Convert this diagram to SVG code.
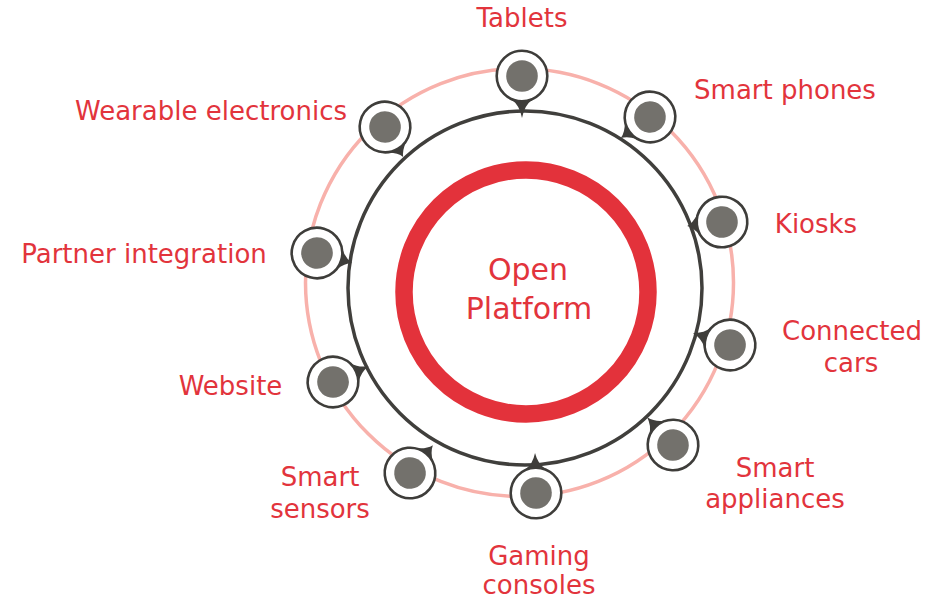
<svg xmlns="http://www.w3.org/2000/svg" width="938" height="600" viewBox="0 0 938 600">
<style>
.lbl{font-family:"DejaVu Sans","Liberation Sans",sans-serif;font-size:26px;fill:#e2343c;text-anchor:middle}
.ctr{font-size:30px}
.pin{fill:#3e3d3a}
.ring{fill:#fff;stroke:#3e3d3a;stroke-width:2.6}
.dot{fill:#73716c}
</style>
<g id="connectors" fill="none">
  <circle cx="519.5" cy="282.5" r="214" stroke="#f8b1ab" stroke-width="3.5"/>
  <circle cx="525" cy="288" r="177" stroke="#403f3c" stroke-width="3.5"/>
</g>
<g id="center">
  <circle cx="526" cy="292" r="122" fill="none" stroke="#e3323b" stroke-width="17.5"/>
  <text class="lbl ctr" x="528" y="280">Open</text>
  <text class="lbl ctr" x="529" y="319">Platform</text>
</g>
<g id="n-tablets">
  <g transform="translate(522,76) rotate(0)"><path class="pin" d="M-10,23.9 Q-2.5,29 0,42 Q2.5,29 10,23.9Z"/><circle class="ring" r="25.3"/><circle class="dot" r="15.8"/></g>
  <text class="lbl" x="522" y="27">Tablets</text>
</g>
<g id="n-phones">
  <g transform="translate(650,117) rotate(54.1)"><path class="pin" d="M-10,23.9 Q-2.5,29 0,36 Q2.5,29 10,23.9Z"/><circle class="ring" r="25.3"/><circle class="dot" r="15.8"/></g>
  <text class="lbl" x="785" y="99">Smart phones</text>
</g>
<g id="n-kiosks">
  <g transform="translate(722,222) rotate(83.3)"><path class="pin" d="M-10,23.9 Q-2.5,29 0,35 Q2.5,29 10,23.9Z"/><circle class="ring" r="25.3"/><circle class="dot" r="15.8"/></g>
  <text class="lbl" x="816" y="233">Kiosks</text>
</g>
<g id="n-cars">
  <g transform="translate(730,345) rotate(108)"><path class="pin" d="M-10,23.9 Q-2.5,29 0,39 Q2.5,29 10,23.9Z"/><circle class="ring" r="25.3"/><circle class="dot" r="15.8"/></g>
  <text class="lbl" x="852" y="340">Connected</text>
  <text class="lbl" x="851" y="372">cars</text>
</g>
<g id="n-appliances">
  <g transform="translate(673,445) rotate(137.1)"><path class="pin" d="M-10,23.9 Q-2.5,29 0,38 Q2.5,29 10,23.9Z"/><circle class="ring" r="25.3"/><circle class="dot" r="15.8"/></g>
  <text class="lbl" x="775" y="477">Smart</text>
  <text class="lbl" x="775" y="508">appliances</text>
</g>
<g id="n-gaming">
  <g transform="translate(536,493) rotate(178.6)"><path class="pin" d="M-10,23.9 Q-2.5,29 0,40 Q2.5,29 10,23.9Z"/><circle class="ring" r="25.3"/><circle class="dot" r="15.8"/></g>
  <text class="lbl" x="539" y="565">Gaming</text>
  <text class="lbl" x="539" y="594">consoles</text>
</g>
<g id="n-sensors">
  <g transform="translate(410,473) rotate(-140.6)"><path class="pin" d="M-10,23.9 Q-2.5,29 0,36 Q2.5,29 10,23.9Z"/><circle class="ring" r="25.3"/><circle class="dot" r="15.8"/></g>
  <text class="lbl" x="320" y="486">Smart</text>
  <text class="lbl" x="320" y="518">sensors</text>
</g>
<g id="n-website">
  <g transform="translate(333,382) rotate(-114)"><path class="pin" d="M-10,23.9 Q-2.5,29 0,39 Q2.5,29 10,23.9Z"/><circle class="ring" r="25.3"/><circle class="dot" r="15.8"/></g>
  <text class="lbl" x="230.5" y="395">Website</text>
</g>
<g id="n-partner">
  <g transform="translate(317,253) rotate(-74.1)"><path class="pin" d="M-10,23.9 Q-2.5,29 0,36.5 Q2.5,29 10,23.9Z"/><circle class="ring" r="25.3"/><circle class="dot" r="15.8"/></g>
  <text class="lbl" x="144" y="263">Partner integration</text>
</g>
<g id="n-wearable">
  <g transform="translate(385,127) rotate(-31.3)"><path class="pin" d="M-10,23.9 Q-2.5,29 0,35 Q2.5,29 10,23.9Z"/><circle class="ring" r="25.3"/><circle class="dot" r="15.8"/></g>
  <text class="lbl" x="211" y="120">Wearable electronics</text>
</g>
</svg>
